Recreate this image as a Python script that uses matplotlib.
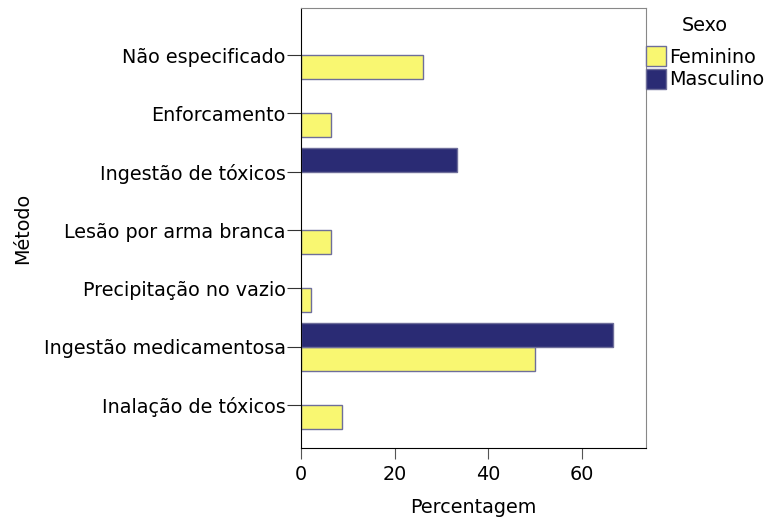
import numpy as np
import matplotlib
matplotlib.use("Agg")
from matplotlib import pyplot as plt
from matplotlib.patches import Patch

# data (percent within each sex)
metodos = ["Não especificado", "Enforcamento", "Ingestão de tóxicos",
           "Lesão por arma branca", "Precipitação no vazio",
           "Ingestão medicamentosa", "Inalação de tóxicos"]
feminino = [26.1, 6.5, 0.0, 6.5, 2.2, 50.0, 8.7]
masculino = [0.0, 0.0, 33.3, 0.0, 0.0, 66.7, 0.0]
xticks = [0, 20, 40, 60]

col_fem = "#F9F771"
col_masc = "#2A2B74"
col_edge = "#6E6E9A"

plt.rcParams["font.family"] = ["DejaVu Sans"]
fs = 13.8

fig = plt.figure(figsize=(7.7, 5.27), dpi=100)
ax = fig.add_axes([301 / 770, 1 - 448 / 527, 345 / 770, 440 / 527])

y = np.arange(len(metodos))
h = 0.41
for i in y:
    if feminino[i] > 0:
        ax.barh(i, feminino[i], height=h, align="edge", color=col_fem,
                edgecolor=col_edge, linewidth=1)
    if masculino[i] > 0:
        ax.barh(i - h, masculino[i], height=h, align="edge", color=col_masc,
                edgecolor=col_edge, linewidth=1)

ax.set_xlim(0, 73.7)
ax.set_ylim(len(metodos) - 1 + 0.737, -0.806)
ax.set_yticks(y)
ax.set_yticklabels(metodos, fontsize=fs)
ax.set_xticks(xticks)
ax.tick_params(axis="x", labelsize=fs, length=8, color="#555555", pad=4)
ax.tick_params(axis="y", length=10, color="#333333", pad=1)

for s in ["top", "right"]:
    ax.spines[s].set_color("#888888")
for s in ["left", "bottom"]:
    ax.spines[s].set_color("black")

ax.set_xlabel("Percentagem", fontsize=fs, labelpad=10)
ax.set_ylabel("Método", fontsize=fs, labelpad=8)

handles = [Patch(facecolor=col_fem, edgecolor=col_edge, label="Feminino"),
           Patch(facecolor=col_masc, edgecolor=col_edge, label="Masculino")]
leg = fig.legend(handles=handles, title="Sexo", loc="upper left",
                 bbox_to_anchor=(646 / 770, 1 - 16 / 527), frameon=False,
                 fontsize=fs, title_fontsize=fs, handlelength=1.05,
                 handleheight=1.25, handletextpad=0.15, labelspacing=0.1,
                 borderaxespad=0, borderpad=0.0)
leg._legend_box.sep = 8

fig.savefig("out.png", dpi=100)
